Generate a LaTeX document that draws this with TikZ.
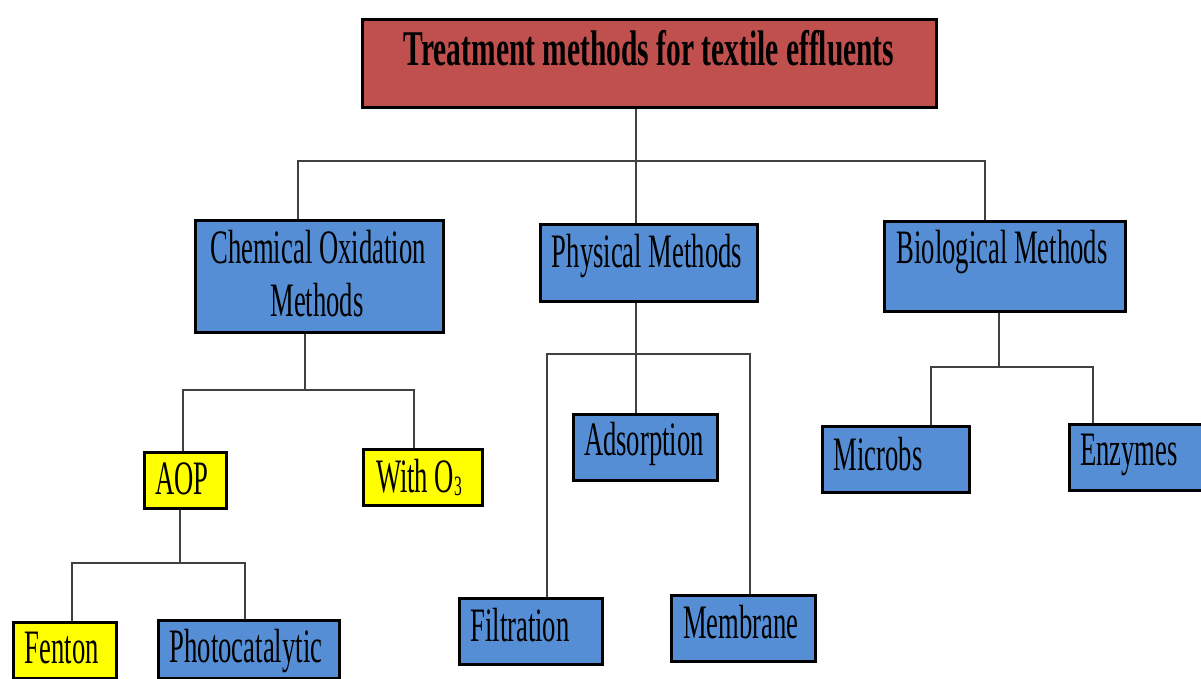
\documentclass[tikz,border=0pt]{standalone}
\usepackage{fontspec}
\setmainfont[FakeStretch=0.555]{Liberation Serif}
\newfontfamily\titlefont[FakeStretch=0.59]{Liberation Serif}
\definecolor{boxred}{HTML}{C0504D}
\definecolor{boxblue}{HTML}{558ED5}
\definecolor{boxyellow}{HTML}{FFFF00}
\definecolor{linegray}{HTML}{404040}
\tikzset{
  box/.style={draw=black, line width=2.6pt, inner sep=0pt, anchor=north west},
  bluebox/.style={box, fill=boxblue},
  yellowbox/.style={box, fill=boxyellow},
  redbox/.style={box, fill=boxred},
  txt/.style={inner sep=0pt, anchor=base, font=\fontsize{48}{52}\selectfont},
  conn/.style={draw=linegray, line width=1.4pt}
}
\newcommand{\bx}[6]{\node[#1, minimum width=#4pt, minimum height=#5pt] (#6) at (#2,#3) {};}
\begin{document}
\begin{tikzpicture}[x=1pt,y=-1pt]
\useasboundingbox (0,0) rectangle (1201,679);
% boxes: style, x, y, width, height, name
\bx{redbox}{361}{18}{574}{88}{top}
\bx{bluebox}{194}{219}{248}{112}{chem}
\bx{bluebox}{539}{223}{217}{77}{phys}
\bx{bluebox}{883}{220}{241}{90}{bio}
\bx{yellowbox}{143}{451}{82}{56}{aop}
\bx{yellowbox}{362}{448}{119}{56}{ozone}
\bx{yellowbox}{12}{621}{103}{56}{fenton}
\bx{bluebox}{157}{619}{181}{58}{photo}
\bx{bluebox}{572}{413}{144}{66}{adsorp}
\bx{bluebox}{458}{597}{143}{66}{filt}
\bx{bluebox}{670}{594}{144}{66}{memb}
\bx{bluebox}{821}{425}{147}{66}{microbs}
\bx{bluebox}{1068}{423}{134}{66}{enzymes}
% texts
\node[txt, font=\fontsize{50}{54}\titlefont\bfseries] (ttop) at (649,66) {Treatment methods for textile effluents};
\node[txt] (tchem1) at (318,263) {Chemical Oxidation};
\node[txt] (tchem2) at (317,316) {Methods};
\node[txt] (tphys) at (647,267) {Physical Methods};
\node[txt] (tbio) at (1002,263) {Biological Methods};
\node[txt] (taop) at (182,494) {AOP};
\node[txt] (tozone) at (419,492) {With O\raisebox{-3pt}{\fontsize{28}{28}\selectfont 3}};
\node[txt] (tfenton) at (62,663) {Fenton};
\node[txt] (tphoto) at (246,662) {Photocatalytic};
\node[txt] (tadsorp) at (644,455) {Adsorption};
\node[txt] (tfilt) at (520,641) {Filtration};
\node[txt] (tmemb) at (741,638) {Membrane};
\node[txt] (tmicrobs) at (878,470) {Microbs};
\node[txt] (tenzymes) at (1129,465) {Enzymes};
% junctions
\coordinate (j1) at (636,161);
\coordinate (j2) at (305,390);
\coordinate (j3) at (180,563);
\coordinate (j4) at (636,354);
\coordinate (j5) at (999,367);
% connectors
\draw[conn] (top.south -| j1) -- (j1);
\draw[conn] (chem.north -| 298,0) |- (j1) -| (bio.north -| 985,0);
\draw[conn] (j1) -- (phys.north -| j1);
\draw[conn] (chem.south -| j2) -- (j2);
\draw[conn] (aop.north -| 183,0) |- (j2) -| (ozone.north -| 414,0);
\draw[conn] (aop.south -| j3) -- (j3);
\draw[conn] (fenton.north -| 72,0) |- (j3) -| (photo.north -| 245,0);
\draw[conn] (phys.south -| j4) -- (j4);
\draw[conn] (filt.north -| 547,0) |- (j4) -| (memb.north -| 750,0);
\draw[conn] (j4) -- (adsorp.north -| j4);
\draw[conn] (bio.south -| j5) -- (j5);
\draw[conn] (microbs.north -| 931,0) |- (j5) -| (enzymes.north -| 1093,0);
\end{tikzpicture}
\end{document}
